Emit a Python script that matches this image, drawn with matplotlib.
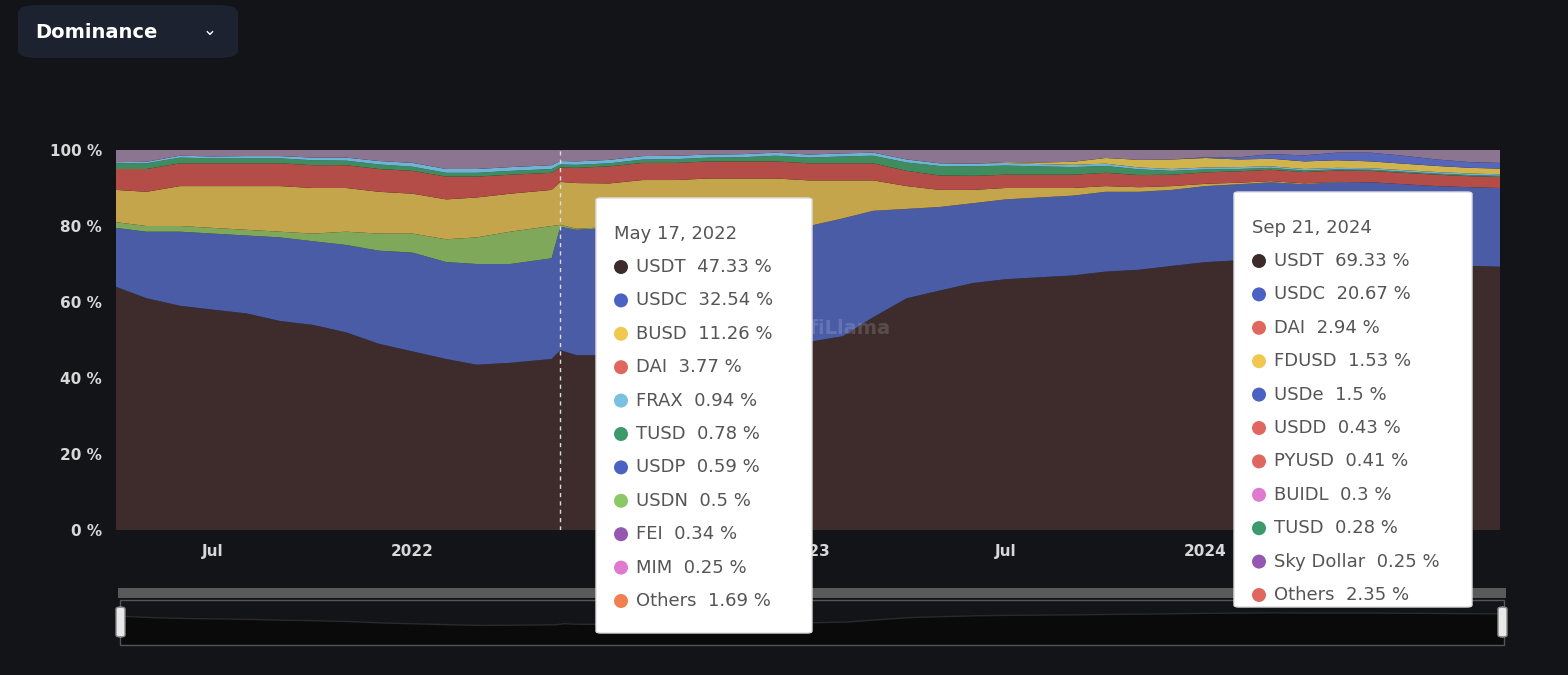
import matplotlib
matplotlib.use("Agg")
import matplotlib.pyplot as plt
from matplotlib.patches import FancyBboxPatch, Ellipse, Rectangle
import numpy as np
import pandas as pd

dates = (["2021-04-03"] + [f"2021-{m:02d}-01" for m in range(5, 13)] +
         [f"2022-{m:02d}-01" for m in range(1, 5)] + ["2022-05-09", "2022-05-17"] +
         [f"2022-{m:02d}-01" for m in range(6, 13)] +
         [f"2023-{m:02d}-01" for m in range(1, 13)] +
         [f"2024-{m:02d}-01" for m in range(1, 10)] + ["2024-09-28"])

usdt = [64, 61, 59, 58, 57, 55, 54, 52, 49,
        47, 45, 43.5, 44, 45, 47.3, 46, 46, 47, 47, 48, 48, 49,
        49.5, 51, 56, 61, 63, 65, 66, 66.5, 67, 68, 68.5, 69.5,
        70.5, 71, 71.5, 71, 71, 71, 70.5, 70, 69.5, 69.3]
usdc = [15.5, 17.5, 19.5, 20, 20.5, 22, 22, 23, 24.5,
        26, 25.5, 26.5, 26, 26.5, 32.5, 33, 33.5, 33, 33, 32, 31.5, 31,
        30.5, 31, 28, 23.5, 22, 21, 21, 21, 21, 21, 20.5, 20,
        20, 20, 20, 20, 20.5, 20.5, 20.5, 20.5, 20.7, 20.7]
usdn = [1.5, 1.5, 1.5, 1.5, 1.5, 1.5, 2, 3.5, 4.5,
        5, 6, 7, 8.5, 8.5, 0.5, 0.3, 0.2, 0.1, 0.1, 0, 0, 0] + [0] * 22
busd = [8.5, 9, 10.5, 11, 11.5, 12, 12, 11.5, 11,
        10.5, 10.5, 10.5, 10, 9.5, 11.3, 12, 11.5, 12, 12, 12.5, 13, 12.5,
        12, 10, 8, 6, 4.5, 3.5, 3, 2.5, 2, 1.5, 1.2, 1,
        0.6, 0.4, 0.3, 0.2, 0.1, 0, 0, 0, 0, 0]
dai = [5.5, 6, 6, 6, 6, 6, 6, 6, 6,
       6, 6, 5.5, 5, 4.5, 3.8, 4, 4.5, 4.5, 4.5, 4.5, 4.5, 4.5,
       4.5, 4.5, 4.5, 4, 3.8, 3.7, 3.5, 3.5, 3.5, 3.5, 3.2, 3,
       3, 3, 3, 3, 3, 3, 3, 3, 2.9, 2.9]
tusd = [1.5, 1.5, 1.5, 1.3, 1.3, 1.3, 1.3, 1.2, 1.2,
        1.1, 1.0, 1.0, 1.0, 1.0, 0.8, 0.8, 0.8, 0.9, 1.0, 1.0, 1.1, 1.5,
        1.5, 1.8, 2.0, 2.2, 2.5, 2.5, 2.4, 2.2, 2.0, 1.8, 1.5, 1.0,
        0.8, 0.6, 0.5, 0.4, 0.3, 0.3, 0.3, 0.3, 0.3, 0.3]
frax = [0.3, 0.4, 0.5, 0.5, 0.6, 0.6, 0.7, 0.8, 0.9,
        1.0, 1.0, 1.0, 1.0, 1.0, 0.9, 0.9, 0.9, 0.9, 0.9, 0.8, 0.8, 0.8,
        0.8, 0.8, 0.8, 0.8, 0.7, 0.7, 0.7, 0.6, 0.6, 0.6, 0.5, 0.5,
        0.5, 0.5, 0.4, 0.4, 0.4, 0.4, 0.4, 0.4, 0.4, 0.4]
fdusd = [0] * 22 + [0, 0, 0, 0, 0, 0, 0.2, 0.4, 0.8, 1.5, 2, 2.5,
                    2.5, 2, 2, 2, 2, 1.8, 1.7, 1.6, 1.5, 1.5]
usde = [0] * 34 + [0.2, 0.6, 1.2, 1.6, 2, 2.3, 2.1, 1.7, 1.5, 1.5]

tip1_date = "May 17, 2022"
tip1_names = ["USDT", "USDC", "BUSD", "DAI", "FRAX", "TUSD", "USDP", "USDN", "FEI", "MIM", "Others"]
tip1_vals = ["47.33", "32.54", "11.26", "3.77", "0.94", "0.78", "0.59", "0.5", "0.34", "0.25", "1.69"]
tip1_cols = ["#3d2b2b", "#4a62c4", "#f0c850", "#e0675f", "#7ac0e0", "#3c9a6a", "#4a62c4",
             "#8cc866", "#9458b0", "#e07ad0", "#f08050"]
tip2_date = "Sep 21, 2024"
tip2_names = ["USDT", "USDC", "DAI", "FDUSD", "USDe", "USDD", "PYUSD", "BUIDL", "TUSD", "Sky Dollar", "Others"]
tip2_vals = ["69.33", "20.67", "2.94", "1.53", "1.5", "0.43", "0.41", "0.3", "0.28", "0.25", "2.35"]
tip2_cols = ["#3d2b2b", "#4a62c4", "#e0675f", "#f0c850", "#4a62c4", "#e0675f", "#e0675f",
             "#e07ad0", "#3c9a6a", "#9458b0", "#e0675f"]

x = pd.to_datetime(dates)
arr = np.array([usdt, usdc, usdn, busd, dai, tusd, frax, fdusd, usde], dtype=float)
others = np.clip(100 - arr.sum(axis=0), 0, None)
stack = np.vstack([arr, others])
colors = ["#3e2c2d", "#4a5ca6", "#7fa85a", "#c4a54c", "#b44c48", "#3f8c5e",
          "#6fb4d6", "#d2b44c", "#5566bb", "#8c7590"]

W, H = 1568, 675
BG = "#131418"
fig = plt.figure(figsize=(W / 100, H / 100), dpi=100, facecolor=BG)
def P(px, py):
    return (px / W, 1 - py / H)

ax = fig.add_axes([116 / W, 145 / H, 1384 / W, 380 / H], facecolor=BG)
ax.stackplot(x, stack, colors=colors, linewidth=0)
ax.set_xlim(pd.Timestamp("2021-04-03"), pd.Timestamp("2024-09-28"))
ax.set_ylim(0, 100)
for s in ax.spines.values():
    s.set_visible(False)
ax.set_yticks([0, 20, 40, 60, 80, 100])
ax.set_yticklabels([f"{v} %" for v in [0, 20, 40, 60, 80, 100]])
ticks = pd.to_datetime(["2021-07-01", "2022-01-01", "2023-01-01", "2023-07-01", "2024-01-01"])
ax.set_xticks(ticks)
ax.set_xticklabels(["Jul", "2022", "2023", "Jul", "2024"])
ax.tick_params(length=0, colors="#d8d8d8", labelsize=11, pad=10)
for lab in ax.get_yticklabels() + ax.get_xticklabels():
    lab.set_fontweight("bold")
ax.axvline(pd.Timestamp("2022-05-17"), color="#dddddd", ls=(0, (3, 3)), lw=1)
ax.text(0.52, 0.53, "DefiLlama", transform=ax.transAxes, color="white", alpha=0.15,
        fontsize=14, fontweight="bold", ha="center", va="center")

fig.add_artist(FancyBboxPatch(P(18, 58), 220 / W, 53 / H, boxstyle="round,pad=0,rounding_size=0.012",
                              transform=fig.transFigure, fc="#1c2230", ec="none"))
fig.text(*P(35, 33), "Dominance", color="white", fontsize=14, fontweight="bold", va="center")
fig.text(*P(210, 30), "⌄", color="white", fontsize=12, va="center", ha="center")

fig.add_artist(Rectangle(P(118, 598), 1388 / W, 10 / H, transform=fig.transFigure, fc="#5a5a5a", ec="none"))
fig.add_artist(Rectangle(P(120, 645), 1384 / W, 45 / H, transform=fig.transFigure, fc="none", ec="#555555", lw=1))
sax = fig.add_axes([120 / W, 30 / H, 1384 / W, 45 / H], facecolor="none")
sax.fill_between(x, usdt, 0, color="#0a0a0a")
sax.plot(x, usdt, color="#2a2a2a", lw=1)
sax.set_xlim(x[0], x[-1]); sax.set_ylim(0, 100); sax.axis("off")
for hx in (120, 1502):
    fig.add_artist(FancyBboxPatch(P(hx - 4, 637), 9 / W, 30 / H, boxstyle="round,pad=0,rounding_size=0.003",
                                  transform=fig.transFigure, fc="#e8e8e8", ec="#888888", lw=1))

def tooltip(x0, y0, w, h, title, names, vals, cols):
    fig.add_artist(FancyBboxPatch(P(x0, y0 + h), w / W, h / H, boxstyle="round,pad=0,rounding_size=0.003",
                                  transform=fig.transFigure, fc="white", ec="#dddddd", lw=1, zorder=10))
    fig.text(*P(x0 + 18, y0 + 36), title, color="#555555", fontsize=13, va="center", zorder=11)
    for i, (n, v, c) in enumerate(zip(names, vals, cols)):
        yy = y0 + 69 + i * 33.4
        fig.add_artist(Ellipse(P(x0 + 25, yy), 14 / W, 14 / H, transform=fig.transFigure,
                               fc=c, ec="none", zorder=11))
        fig.text(*P(x0 + 40, yy), f"{n}  {v} %", color="#555555", fontsize=13, va="center", zorder=11)

tooltip(596, 198, 216, 435, tip1_date, tip1_names, tip1_vals, tip1_cols)
tooltip(1234, 192, 238, 415, tip2_date, tip2_names, tip2_vals, tip2_cols)

fig.savefig("out.png", dpi=100, facecolor=BG)
